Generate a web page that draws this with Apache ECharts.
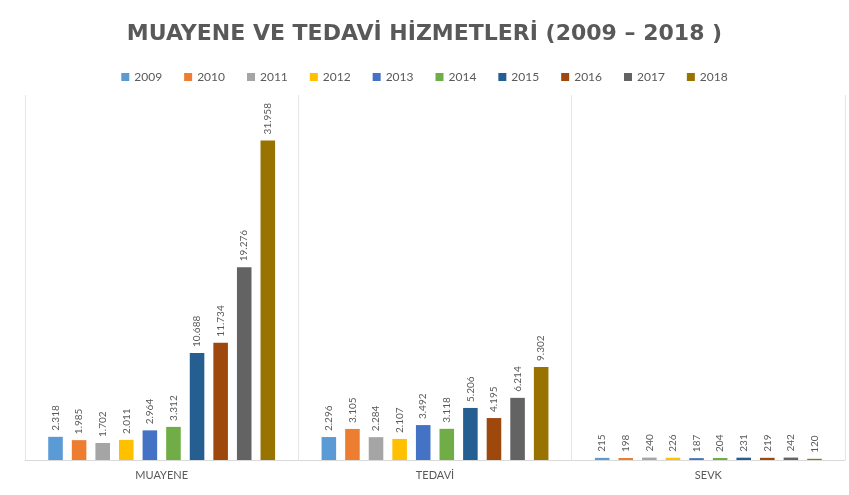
<!DOCTYPE html>
<html>
<head>
<meta charset="utf-8">
<script src="https://cdn.jsdelivr.net/npm/echarts@6/dist/echarts.min.js"></script>
<style>
  html, body { margin: 0; padding: 0; background: #fff; }
  #chart { width: 849px; height: 495px; }
</style>
</head>
<body>
<div id="chart"></div>
<script>
// Service groups on the category axis
const categories = ['MUAYENE', 'TEDAVİ', 'SEVK'];
// One series per year
const years = ['2009', '2010', '2011', '2012', '2013', '2014', '2015', '2016', '2017', '2018'];
// Yearly counts for each group (2009 → 2018)
const muayene = [2318, 1985, 1702, 2011, 2964, 3312, 10688, 11734, 19276, 31958];
const tedavi  = [2296, 3105, 2284, 2107, 3492, 3118, 5206, 4195, 6214, 9302];
const sevk    = [215, 198, 240, 226, 187, 204, 231, 219, 242, 120];

const palette = ['#5B9BD5', '#ED7D31', '#A5A5A5', '#FFC000', '#4472C4',
                 '#70AD47', '#255E91', '#9E480E', '#636363', '#997300'];

const fmt = v => String(v).replace(/\B(?=(\d{3})+(?!\d))/g, '.');

const series = years.map((y, i) => ({
  name: y,
  type: 'bar',
  data: [muayene[i], tedavi[i], sevk[i]],
  itemStyle: { color: palette[i] },
  barGap: '62%',
  barCategoryGap: '17%',
  label: {
    show: true,
    position: 'top',
    rotate: 90,
    align: 'left',
    verticalAlign: 'middle',
    distance: 6,
    color: '#595959',
    fontFamily: 'Lato',
    fontSize: 10,
    formatter: p => fmt(p.value)
  }
}));

const chart = echarts.init(document.getElementById('chart'));
chart.setOption({
  animation: false,
  color: palette,
  title: {
    text: 'MUAYENE VE TEDAVİ HİZMETLERİ (2009 – 2018 )',
    left: 'center',
    top: 18,
    textStyle: { fontFamily: 'DejaVu Sans', fontSize: 22, fontWeight: 'bold', color: '#595959' }
  },
  legend: {
    top: 66,
    left: 'center',
    itemWidth: 8,
    itemHeight: 8,
    itemGap: 22,
    icon: 'rect',
    textStyle: { fontFamily: 'Lato', fontSize: 12, color: '#595959' },
    data: years
  },
  grid: { left: 25, right: 4, top: 95, bottom: 35 },
  xAxis: {
    type: 'category',
    data: categories,
    axisLine: { lineStyle: { color: '#D9D9D9' } },
    axisTick: { show: false },
    splitLine: { show: true, lineStyle: { color: '#E6E6E6' } },
    axisLabel: { fontFamily: 'Lato', fontSize: 11, color: '#595959', margin: 10 }
  },
  yAxis: {
    type: 'value',
    min: 0,
    max: 36500,
    show: false,
    splitLine: { show: false }
  },
  series: series
});
</script>
</body>
</html>
